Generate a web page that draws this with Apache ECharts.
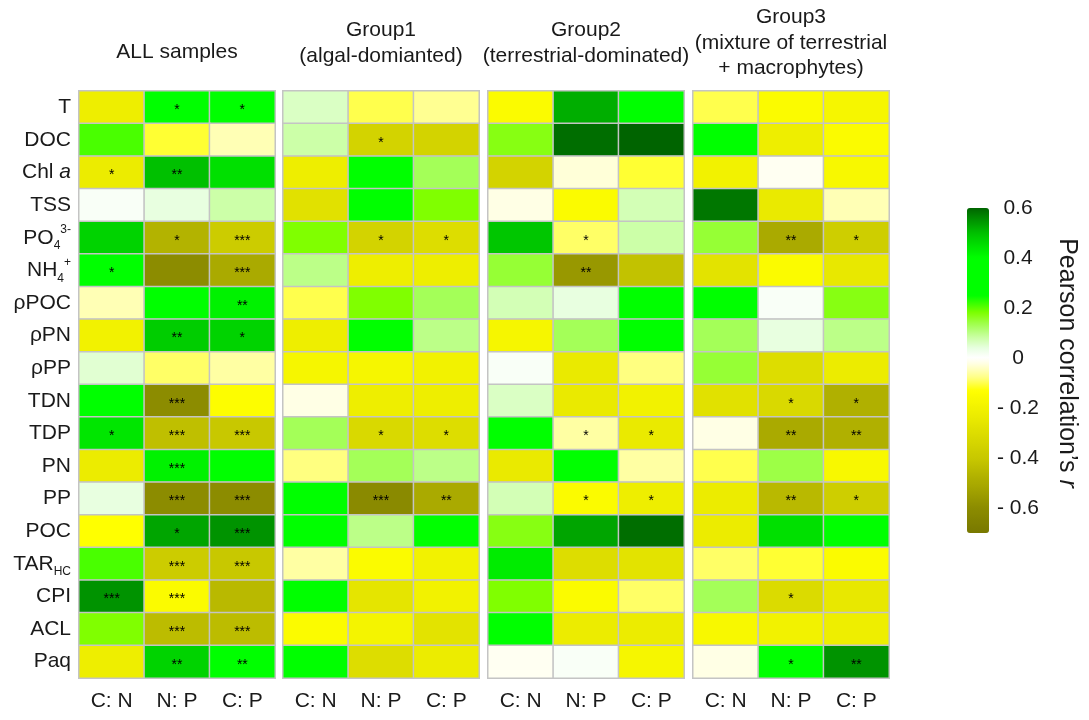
<!DOCTYPE html>
<html>
<head>
<meta charset="utf-8">
<script src="https://cdn.jsdelivr.net/npm/echarts@6/dist/echarts.min.js"></script>
<style>html,body{margin:0;padding:0;background:#fff}#c{width:1089px;height:720px}</style>
</head>
<body>
<div id="c"></div>
<script>
// ---------- data ----------
const rowLabels = ['T','DOC','Chl a','TSS','PO4','NH4','ρPOC','ρPN','ρPP','TDN','TDP','PN','PP','POC','TARHC','CPI','ACL','Paq'];
const colLabels = ['C: N','N: P','C: P'];
const panelTitles = ['ALL samples','Group1\n(algal-domianted)','Group2\n(terrestrial-dominated)','Group3\n(mixture of terrestrial\n+ macrophytes)'];
const colorbarTicks = [-0.6,-0.4,-0.2,0,0.2,0.4,0.6];

const allValues = [
  [-0.22, 0.35, 0.33],
  [ 0.21,-0.11,-0.05],
  [-0.23, 0.50, 0.45],
  [ 0.01, 0.04, 0.08],
  [ 0.47,-0.47,-0.38],
  [ 0.30,-0.60,-0.50],
  [-0.05, 0.30, 0.42],
  [-0.20, 0.48, 0.47],
  [ 0.05,-0.09,-0.06],
  [ 0.32,-0.60,-0.14],
  [ 0.44,-0.43,-0.40],
  [-0.23, 0.42, 0.35],
  [ 0.04,-0.60,-0.60],
  [-0.13, 0.53, 0.55],
  [ 0.21,-0.38,-0.40],
  [ 0.55,-0.15,-0.45],
  [ 0.18,-0.44,-0.44],
  [-0.22, 0.47, 0.38]
];
const allStars = [
  ['','*','*'],['','',''],['*','**',''],['','',''],['','*','***'],['*','','***'],
  ['','','**'],['','**','*'],['','',''],['','***',''],['*','***','***'],['','***',''],
  ['','***','***'],['','*','***'],['','***','***'],['***','***',''],['','***','***'],['','**','**']
];

const group1Values = [
  [ 0.06,-0.10,-0.07],
  [ 0.08,-0.35,-0.35],
  [-0.22, 0.32, 0.13],
  [-0.28, 0.30, 0.18],
  [ 0.18,-0.35,-0.30],
  [ 0.10,-0.22,-0.22],
  [-0.10, 0.18, 0.13],
  [-0.22, 0.30, 0.10],
  [-0.18,-0.18,-0.20],
  [-0.02,-0.22,-0.22],
  [ 0.13,-0.32,-0.30],
  [-0.08, 0.13, 0.10],
  [ 0.30,-0.61,-0.50],
  [ 0.30, 0.10, 0.30],
  [-0.06,-0.15,-0.20],
  [ 0.30,-0.26,-0.20],
  [-0.15,-0.19,-0.27],
  [ 0.30,-0.30,-0.23]
];
const group1Stars = [
  ['','',''],['','*',''],['','',''],['','',''],['','*','*'],['','',''],
  ['','',''],['','',''],['','',''],['','',''],['','*','*'],['','',''],
  ['','***','**'],['','',''],['','',''],['','',''],['','',''],['','','']
];

const group2Values = [
  [-0.15, 0.52, 0.33],
  [ 0.17, 0.59, 0.60],
  [-0.35,-0.03,-0.11],
  [-0.02,-0.15, 0.07],
  [ 0.49,-0.09, 0.08],
  [ 0.15,-0.56,-0.42],
  [ 0.07, 0.04, 0.33],
  [-0.18, 0.13, 0.32],
  [ 0.01,-0.24,-0.08],
  [ 0.06,-0.24,-0.20],
  [ 0.32,-0.06,-0.24],
  [-0.24, 0.30,-0.06],
  [ 0.07,-0.15,-0.22],
  [ 0.17, 0.53, 0.59],
  [ 0.43,-0.30,-0.27],
  [ 0.18,-0.15,-0.09],
  [ 0.32,-0.23,-0.23],
  [-0.01, 0.01,-0.18]
];
const group2Stars = [
  ['','',''],['','',''],['','',''],['','',''],['','*',''],['','**',''],
  ['','',''],['','',''],['','',''],['','',''],['','*','*'],['','',''],
  ['','*','*'],['','',''],['','',''],['','',''],['','',''],['','','']
];

const group3Values = [
  [-0.10,-0.15,-0.18],
  [ 0.32,-0.22,-0.15],
  [-0.20,-0.01,-0.17],
  [ 0.58,-0.24,-0.05],
  [ 0.15,-0.50,-0.37],
  [-0.27,-0.15,-0.25],
  [ 0.32, 0.01, 0.17],
  [ 0.13, 0.04, 0.10],
  [ 0.15,-0.30,-0.23],
  [-0.28,-0.32,-0.48],
  [-0.02,-0.50,-0.48],
  [-0.10, 0.14,-0.17],
  [-0.23,-0.45,-0.37],
  [-0.23, 0.45, 0.35],
  [-0.09,-0.11,-0.15],
  [ 0.13,-0.31,-0.25],
  [-0.17,-0.20,-0.22],
  [-0.02, 0.33, 0.55]
];
const group3Stars = [
  ['','',''],['','',''],['','',''],['','',''],['','**','*'],['','',''],
  ['','',''],['','',''],['','',''],['','*','*'],['','**','**'],['','',''],
  ['','**','*'],['','',''],['','',''],['','*',''],['','',''],['','*','**']
];

const panelValues = [allValues, group1Values, group2Values, group3Values];
const panelStars = [allStars, group1Stars, group2Stars, group3Stars];

// ---------- colour ramp (style) ----------
const rampStops = [
  [-0.70,'#787800'],[-0.60,'#8c8c00'],[-0.50,'#aaaa00'],[-0.40,'#c8c800'],
  [-0.30,'#dddd00'],[-0.20,'#f2f200'],[-0.13,'#ffff00'],[-0.08,'#ffff80'],
  [-0.03,'#ffffd8'],[0.00,'#ffffff'],[0.04,'#e8ffe0'],[0.08,'#ccffa8'],
  [0.13,'#a4ff58'],[0.18,'#80ff00'],[0.25,'#00ff00'],[0.40,'#00ff00'],
  [0.50,'#00c000'],[0.56,'#008a00'],[0.60,'#006400']
];
const VMIN = -0.7, VMAX = 0.6;
function hex2rgb(h){return [1,3,5].map(i=>parseInt(h.substr(i,2),16));}
function rampAt(v){
  if (v<=rampStops[0][0]) return rampStops[0][1];
  for (let i=1;i<rampStops.length;i++){
    if (v<=rampStops[i][0]){
      const [v0,c0]=rampStops[i-1],[v1,c1]=rampStops[i];
      const t=(v-v0)/(v1-v0), a=hex2rgb(c0), b=hex2rgb(c1);
      return 'rgb('+a.map((x,k)=>Math.round(x+(b[k]-x)*t)).join(',')+')';
    }
  }
  return rampStops[rampStops.length-1][1];
}
const rampColors = [];
for (let k=0;k<=130;k++) rampColors.push(rampAt(VMIN + (VMAX-VMIN)*k/130));

// ---------- layout ----------
const FONT = "'Liberation Sans', Arial, sans-serif";
const panelLeft = [79, 283, 488, 693];
const panelW = 196, gridTop = 91, gridH = 587;

const grids = [], xAxes = [], yAxes = [], series = [], graphics = [];
const titleY = [52, 43, 43, 43];

panelLeft.forEach((L, p) => {
  grids.push({left: L, top: gridTop, width: panelW, height: gridH, show: true,
    borderColor: '#c8c8c8', borderWidth: 2, backgroundColor: 'transparent'});
  xAxes.push({type: 'category', gridIndex: p, data: colLabels, position: 'bottom',
    axisLine: {show: false}, axisTick: {show: false}, splitLine: {show: false},
    axisLabel: {fontSize: 21, color: '#1a1a1a', fontFamily: FONT, margin: 13}});
  yAxes.push({type: 'category', gridIndex: p, data: rowLabels, inverse: true,
    axisLine: {show: false}, axisTick: {show: false}, splitLine: {show: false},
    axisLabel: p === 0 ? {
      margin: 8, color: '#1a1a1a', fontFamily: FONT,
      formatter: function (name) {
        if (name === 'Chl a') return '{b|Chl }{i|a}';
        if (name === 'PO4') return '{b|PO}{sub|4}{sup|3-}';
        if (name === 'NH4') return '{b|NH}{sub|4}{sup|+}';
        if (name === 'TARHC') return '{b|TAR}{sub|HC}';
        return '{b|' + name + '}';
      },
      rich: {
        b: {fontSize: 21, fontFamily: FONT, color: '#1a1a1a', lineHeight: 28},
        i: {fontSize: 21, fontFamily: FONT, color: '#1a1a1a', fontStyle: 'italic', lineHeight: 28},
        sub: {fontSize: 12, fontFamily: FONT, color: '#1a1a1a', lineHeight: 12, verticalAlign: 'bottom'},
        sup: {fontSize: 12, fontFamily: FONT, color: '#1a1a1a', lineHeight: 12, verticalAlign: 'top'}
      }
    } : {show: false}});
  const vals = panelValues[p], stars = panelStars[p];
  const data = [];
  vals.forEach((row, i) => row.forEach((v, j) => data.push([j, i, v])));
  series.push({type: 'heatmap', xAxisIndex: p, yAxisIndex: p, data: data,
    itemStyle: {borderColor: '#c4c4c4', borderWidth: 1.5},
    emphasis: {disabled: true},
    label: {show: true, color: '#000', fontSize: 14, fontFamily: FONT, offset: [0, 3],
      formatter: (pr) => stars[pr.value[1]][pr.value[0]]}});
  graphics.push({type: 'text', x: L + panelW / 2, y: titleY[p],
    style: {text: panelTitles[p], fontSize: 21, fontFamily: FONT, fill: '#1a1a1a',
      align: 'center', verticalAlign: 'middle', lineHeight: 25.5}});
});

// colour bar axis
grids.push({left: 967, top: 208, width: 22, height: 325, show: false});
xAxes.push({type: 'value', gridIndex: 4, show: false, min: 0, max: 1});
yAxes.push({type: 'value', gridIndex: 4, min: VMIN, max: VMAX, position: 'right',
  axisLine: {show: false}, axisTick: {show: false}, splitLine: {show: false},
  axisLabel: {customValues: colorbarTicks, align: 'center', margin: 29, fontSize: 21,
    fontFamily: FONT, color: '#1a1a1a',
    formatter: v => Math.abs(v) < 1e-9 ? '0' : (v < 0 ? '- ' + Math.abs(v).toFixed(1) : v.toFixed(1))}});

graphics.push({type: 'text', x: 1067, y: 363, rotation: -Math.PI / 2,
  style: {text: '{a|Pearson correlation’s }{i|r}', align: 'center', verticalAlign: 'middle',
    rich: {a: {fontSize: 25, fontFamily: FONT, fill: '#1a1a1a', color: '#1a1a1a'},
           i: {fontSize: 25, fontFamily: FONT, fill: '#1a1a1a', color: '#1a1a1a', fontStyle: 'italic'}}}});

const chart = echarts.init(document.getElementById('c'), null, {renderer: 'canvas'});
chart.setOption({
  animation: false,
  backgroundColor: '#fff',
  grid: grids,
  xAxis: xAxes,
  yAxis: yAxes,
  visualMap: {type: 'continuous', min: VMIN, max: VMAX, dimension: 2, seriesIndex: [0,1,2,3],
    orient: 'vertical', left: 967, top: 208, itemWidth: 22, itemHeight: 325, padding: 0,
    calculable: false, hoverLink: false, text: null, inRange: {color: rampColors}},
  series: series,
  graphic: graphics
});
</script>
</body>
</html>
